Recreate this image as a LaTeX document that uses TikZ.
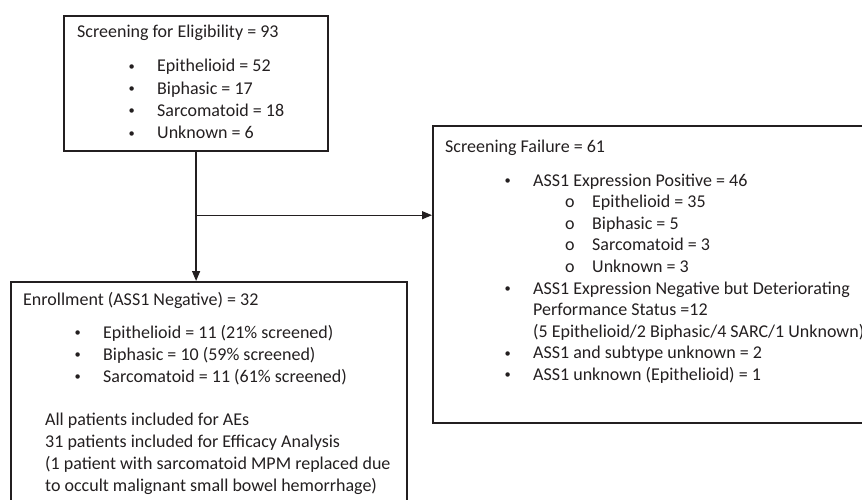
\documentclass[tikz,border=0pt]{standalone}
\usepackage{fontspec}
\setmainfont{Carlito}
\usetikzlibrary{arrows.meta}
\definecolor{ink}{RGB}{35,31,32}
\newcommand\dotmark{\raisebox{1.8pt}{\fontsize{12.5}{22}\selectfont\textbullet}}
\tikzset{
  box/.style={draw=ink,line width=2.2pt,anchor=north west,inner sep=0},
  txt/.style={anchor=base west,inner sep=0,text=ink,font=\fontsize{18}{22}\selectfont},
  link/.style={draw=ink,line width=1.3pt,-{Triangle[length=10pt,width=8pt]}}
}

\begin{document}
\begin{tikzpicture}[x=1pt,y=-1pt]
\useasboundingbox (0,0) rectangle (862,500);
\clip (0,0) rectangle (862,500);
\def\fs{21.6}
% boxes
\node[box,minimum width=264,minimum height=135] (screen) at (63,15) {};
\node[box,minimum width=460,minimum height=297] (fail) at (432,125) {};
\node[box,minimum width=396,minimum height=240] (enrol) at (10,281) {};
% screening
\node[txt] (screen-t) at (77,38) {Screening for Eligibility = 93};
\foreach \s [count=\i] in {Epithelioid = 52,Biphasic = 17,Sarcomatoid = 18,Unknown = 6}{
  \node[txt] (screen-d\i) at (128.5,49.7+22.3*\i) {\dotmark};
  \node[txt] (screen-\i) at (157,49.7+22.3*\i) {\s};
}
% screening failure
\node[txt] (fail-t) at (445,153) {Screening Failure = 61};
\foreach \k in {0,5,8,9}
  \node[txt] (fail-d\k) at (504.5,186+\fs*\k) {\dotmark};
\node[txt] (fail-0) at (533,186) {ASS1 Expression Positive = 46};
\foreach \s [count=\i] in {Epithelioid = 35,Biphasic = 5,Sarcomatoid = 3,Unknown = 3}{
  \node[txt] (fail-o\i) at (565,186+\fs*\i) {o};
  \node[txt] (fail-\i) at (592,186+\fs*\i) {\s};
}
\node[txt] (fail-5) at (533,186+\fs*5) {ASS1 Expression Negative but Deteriorating};
\node[txt] (fail-6) at (533,186+\fs*6) {Performance Status =12};
\node[txt] (fail-7) at (533,186+\fs*7) {(5 Epithelioid/2 Biphasic/4 SARC/1 Unknown)};
\node[txt] (fail-8) at (533,186+\fs*8) {ASS1 and subtype unknown = 2};
\node[txt] (fail-9) at (533,186+\fs*9) {ASS1 unknown (Epithelioid) = 1};
% enrollment
\node[txt] (enrol-t) at (23,305) {Enrollment (ASS1 Negative) = 32};
\foreach \s [count=\i] in {Epithelioid = 11 (21\% screened),Biphasic = 10 (59\% screened),Sarcomatoid = 11 (61\% screened)}{
  \node[txt] (enrol-d\i) at (74.5,316+22*\i) {\dotmark};
  \node[txt] (enrol-\i) at (103,316+22*\i) {\s};
}
\node[txt] (enrol-n1) at (45,425) {All patients included for AEs};
\node[txt] (enrol-n2) at (45,447) {31 patients included for Efficacy Analysis};
\node[txt] (enrol-n3) at (45,469) {(1 patient with sarcomatoid MPM replaced due};
\node[txt] (enrol-n4) at (45,491) {to occult malignant small bowel hemorrhage)};
% connectors
\coordinate (split) at ([yshift=-63pt]screen.south);
\draw[link] (screen.south) -- (screen.south |- enrol.north);
\draw[link] (split) -- (split -| fail.west);
\end{tikzpicture}
\end{document}
